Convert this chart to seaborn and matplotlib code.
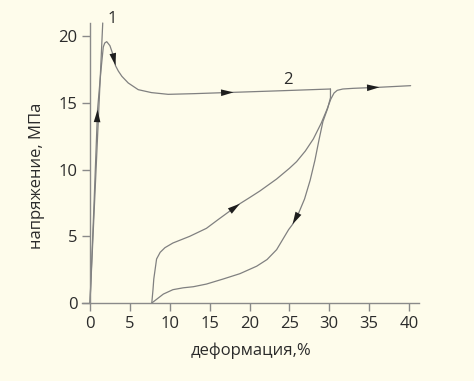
import numpy as np
import pandas as pd
import matplotlib
matplotlib.use("Agg")
import matplotlib.pyplot as plt
import seaborn as sns

# ---- data ----
line1_x = [0.0, 1.6]
line1_y = [0.0, 21.0]

# curve 2: first loading (yield peak, plateau)
load_x = [0.0, 0.5, 0.95, 1.25, 1.46, 1.67, 1.85, 2.1, 2.5, 2.9, 3.2, 3.55, 4.0, 4.8, 6.05, 7.7, 9.8, 13.0, 18.0, 24.0, 30.15]
load_y = [0.0, 7.3, 14.5, 16.6, 17.95, 19.2, 19.5, 19.6, 19.3, 18.6, 17.8, 17.4, 17.0, 16.5, 16.0, 15.78, 15.65, 15.7, 15.8, 15.92, 16.05]

# unloading
unload_x = [30.15, 30.15, 29.8, 29.2, 28.7, 28.2, 27.6, 26.9, 26.2, 25.4, 24.9, 24.2, 23.4, 22.2, 20.9, 18.8, 16.7, 14.6, 12.95, 11.7, 10.4, 9.2, 8.4, 7.75]
unload_y = [16.05, 15.4, 14.6, 13.6, 12.2, 10.7, 9.2, 7.8, 6.8, 5.9, 5.5, 4.8, 4.0, 3.26, 2.76, 2.2, 1.8, 1.42, 1.22, 1.14, 1.0, 0.67, 0.3, 0.0]

# reloading
reload_x = [7.75, 7.9, 8.0, 8.35, 8.8, 9.4, 10.4, 12.5, 14.6, 16.1, 18.8, 20.0, 21.3, 23.4, 25.0, 25.9, 27.0, 28.0, 29.0, 29.7, 30.2, 30.6, 31.0, 31.7, 33.0, 36.3, 40.2]
reload_y = [0.0, 1.0, 1.8, 3.3, 3.8, 4.15, 4.5, 5.0, 5.6, 6.27, 7.45, 7.9, 8.4, 9.3, 10.1, 10.6, 11.4, 12.3, 13.5, 14.5, 15.3, 15.75, 15.95, 16.05, 16.1, 16.18, 16.3]

# arrow positions: (curve, index of arrow tip)
arrows = [("load", 2), ("load", 10), ("load", 18), ("unload", 9), ("reload", 10), ("reload", 25)]

x_ticks = [0, 5, 10, 15, 20, 25, 30, 35, 40]
y_ticks = [0, 5, 10, 15, 20]
x_label = "деформация,%"
y_label = "напряжение, МПа"
curve_labels = ["1", "2"]
curve_label_pos = [(2.8, 21.3), (24.8, 16.7)]

# ---- style ----
bg = "#FEFCEB"
line_col = "#808080"
text_col = "#2b2b2b"
sns.set_style("white")
plt.rcParams["font.family"] = ["Open Sans", "DejaVu Sans"]

fig = plt.figure(figsize=(4.74, 3.81), dpi=100, facecolor=bg)
ax = fig.add_axes([82 / 474, 1 - 303 / 381, (419.4 - 82) / 474, (303 - 23) / 381])
ax.set_facecolor(bg)

curves = {
    "line1": (line1_x, line1_y),
    "load": (load_x, load_y),
    "unload": (unload_x, unload_y),
    "reload": (reload_x, reload_y),
}
for name, (xs, ys) in curves.items():
    df = pd.DataFrame({"x": xs, "y": ys})
    sns.lineplot(data=df, x="x", y="y", sort=False, estimator=None,
                 color=line_col, lw=0.9, ax=ax, clip_on=False)

for cname, k in arrows:
    xs, ys = curves[cname]
    ax.annotate("", xy=(xs[k], ys[k]), xytext=(xs[k - 1], ys[k - 1]),
                arrowprops=dict(arrowstyle="-|>,head_length=0.45,head_width=0.12",
                                mutation_scale=20, lw=0, color="#1e1e1e",
                                shrinkA=0, shrinkB=0))

for lab, (lx, ly) in zip(curve_labels, curve_label_pos):
    ax.text(lx, ly, lab, fontsize=12, color=text_col, ha="center", va="center", clip_on=False)

ax.set_xlim(-1, 41.3)
ax.set_ylim(0, 21)
ax.set_xticks(x_ticks)
ax.set_yticks(y_ticks)
ax.set_xlabel(x_label, fontsize=12, color=text_col, labelpad=8)
ax.set_ylabel(y_label, fontsize=12, color=text_col)
ax.yaxis.set_label_coords(-0.11, 0.455)

for s in ["top", "right"]:
    ax.spines[s].set_visible(False)
ax.spines["left"].set_position(("data", 0))
for s in ["left", "bottom"]:
    ax.spines[s].set_color("#8a8a8a")
    ax.spines[s].set_linewidth(1.0)
ax.tick_params(axis="both", which="both", direction="out", length=6, width=1.0,
               color="#8a8a8a", labelcolor=text_col, labelsize=12, pad=3,
               bottom=True, left=True)

fig.savefig("out.png", dpi=100, facecolor=bg)
